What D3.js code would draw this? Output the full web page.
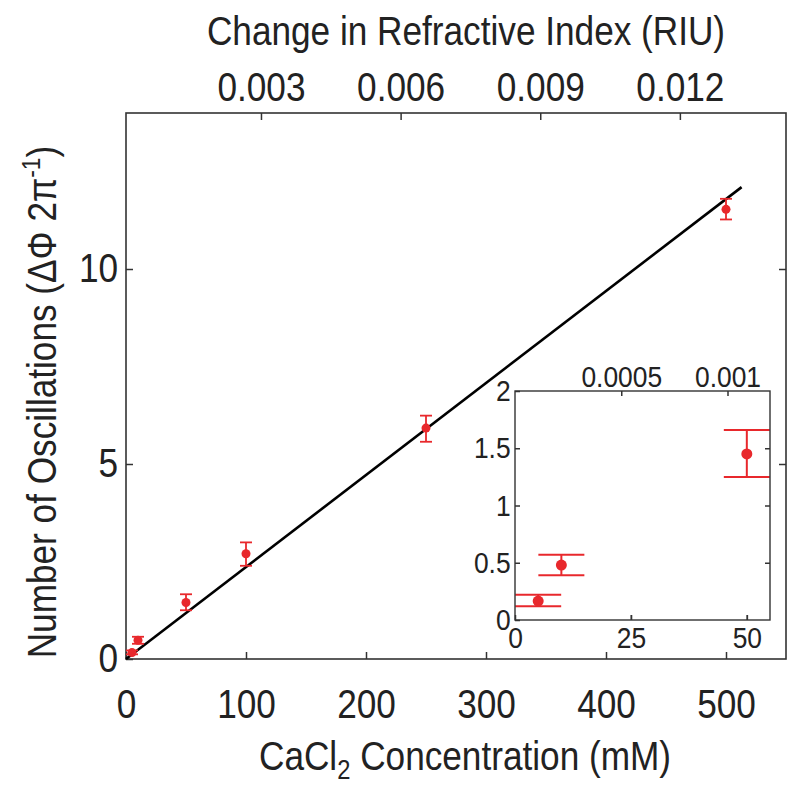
<!DOCTYPE html>
<html><head><meta charset="utf-8">
<script src="https://cdn.jsdelivr.net/npm/d3@7"></script>
<style>body{margin:0;background:#fff}svg{display:block}</style>
</head><body>
<svg id="c" width="800" height="786"></svg>
<script>
// ---- data ----
const conc = [5, 10, 50, 100, 250, 500];
const osc = [0.165, 0.48, 1.45, 2.70, 5.92, 11.53];
const errLow = [0.12, 0.39, 1.25, 2.39, 5.57, 11.27];
const errHigh = [0.22, 0.57, 1.66, 2.99, 6.24, 11.80];
const fitConc = [0, 513];
const fitOsc = [0, 12.1];
const xTicks = [0, 100, 200, 300, 400, 500];
const yTicks = [0, 5, 10];
const riuTicks = [0.003, 0.006, 0.009, 0.012];
const riuLabels = ["0.003", "0.006", "0.009", "0.012"];
const insetConc = [5, 10, 50];
const insetXTicks = [0, 25, 50];
const insetYTicks = [0, 0.5, 1, 1.5, 2];
const insetYLabels = ["0", "0.5", "1", "1.5", "2"];
const insetRiuTicks = [0.0005, 0.001];
const insetRiuLabels = ["0.0005", "0.001"];

const FONT = "'Liberation Sans',Arial,Helvetica,sans-serif";
const SX = 0.88; // horizontal condensation of the glyphs
const RED = "#e8282c";
const AX = "#333";

const svg = d3.select("#c");

// ---- main scales ----
const M = {l: 126, r: 786, t: 113, b: 659};
const x = d3.scaleLinear().domain([0, 550]).range([M.l, M.r]);
const y = d3.scaleLinear().domain([0, 14]).range([M.b, M.t]);
const riu = d3.scaleLinear().domain([0.0001, 0.01428]).range([M.l, M.r]);

function styleAxis(g, fs) {
  g.select(".domain").remove();
  g.selectAll(".tick line").attr("stroke", AX).attr("stroke-width", 1.5);
  g.selectAll(".tick text").attr("fill", "#222").style("font-family", FONT).style("font-size", fs + "px")
    .attr("transform", `scale(${SX},1)`);
}

// bottom
svg.append("g").attr("transform", `translate(0,${M.b})`)
  .call(d3.axisBottom(x).tickValues(xTicks).tickFormat(d3.format("d")).tickSize(-7).tickPadding(31))
  .call(g => styleAxis(g, 40));
// left
svg.append("g").attr("transform", `translate(${M.l},0)`)
  .call(d3.axisLeft(y).tickValues(yTicks).tickFormat(d3.format("d")).tickSize(-7).tickPadding(9))
  .call(g => styleAxis(g, 40));
// right ticks
svg.append("g").attr("transform", `translate(${M.r},0)`)
  .call(d3.axisRight(y).tickValues(yTicks.slice(1)).tickFormat("").tickSize(-7))
  .call(g => styleAxis(g, 40));
// top RIU
svg.append("g").attr("transform", `translate(0,${M.t})`)
  .call(d3.axisTop(riu).tickValues(riuTicks).tickFormat((d, i) => riuLabels[i]).tickSize(-7).tickPadding(12))
  .call(g => styleAxis(g, 40));

// box
svg.append("rect").attr("x", M.l).attr("y", M.t).attr("width", M.r - M.l).attr("height", M.b - M.t)
  .attr("fill", "none").attr("stroke", AX).attr("stroke-width", 1.6);

// fit line
svg.append("path")
  .datum(fitConc.map((c, i) => [c, fitOsc[i]]))
  .attr("d", d3.line().x(d => x(d[0])).y(d => y(d[1])))
  .attr("stroke", "#000").attr("stroke-width", 2.6).attr("fill", "none");

// main error bars + points
const mainPts = conc.map((c, i) => ({c, v: osc[i], lo: errLow[i], hi: errHigh[i]}));
const eb = svg.append("g").attr("stroke", RED).attr("stroke-width", 1.8);
mainPts.forEach(p => {
  const cx = x(p.c);
  eb.append("line").attr("x1", cx).attr("x2", cx).attr("y1", y(p.lo)).attr("y2", y(p.hi));
  eb.append("line").attr("x1", cx - 6).attr("x2", cx + 6).attr("y1", y(p.lo)).attr("y2", y(p.lo));
  eb.append("line").attr("x1", cx - 6).attr("x2", cx + 6).attr("y1", y(p.hi)).attr("y2", y(p.hi));
});
svg.append("g").selectAll("circle").data(mainPts).join("circle")
  .attr("cx", d => x(d.c)).attr("cy", d => y(d.v)).attr("r", 4.5).attr("fill", RED);

// axis titles
svg.append("text").attr("transform", `translate(466,45) scale(${SX},1)`).attr("text-anchor", "middle")
  .style("font-family", FONT).style("font-size", "40px").attr("fill", "#222")
  .text("Change in Refractive Index (RIU)");

const xl = svg.append("text").attr("transform", `translate(465,770) scale(${SX},1)`).attr("text-anchor", "middle")
  .style("font-family", FONT).style("font-size", "40px").attr("fill", "#222");
xl.append("tspan").text("CaCl");
xl.append("tspan").attr("dy", 9).style("font-size", "27px").text("2");
xl.append("tspan").attr("dy", -9).text(" Concentration (mM)");

const yl = svg.append("text").attr("transform", `translate(56,402) rotate(-90) scale(${SX},1)`).attr("text-anchor", "middle")
  .style("font-family", FONT).style("font-size", "40px").attr("fill", "#222");
yl.append("tspan").text("Number of Oscillations (\u0394\u03A6 2\u03C0");
yl.append("tspan").attr("dy", -16).style("font-size", "26px").text("-1");
yl.append("tspan").attr("dy", 16).text(")");

// ---- inset ----
const I = {l: 515, r: 770, t: 391, b: 620};
const ix = d3.scaleLinear().domain([0, 55]).range([I.l, I.r]);
const iy = d3.scaleLinear().domain([0, 2]).range([I.b, I.t]);
const iriu = d3.scaleLinear().domain([0, 0.0012]).range([I.l, I.r]);

svg.append("rect").attr("x", I.l).attr("y", I.t).attr("width", I.r - I.l).attr("height", I.b - I.t).attr("fill", "#fff");

svg.append("g").attr("transform", `translate(0,${I.b})`)
  .call(d3.axisBottom(ix).tickValues(insetXTicks).tickFormat(d3.format("d")).tickSize(-5).tickPadding(7))
  .call(g => styleAxis(g, 30));
svg.append("g").attr("transform", `translate(${I.l},0)`)
  .call(d3.axisLeft(iy).tickValues(insetYTicks).tickFormat((d, i) => insetYLabels[i]).tickSize(-5).tickPadding(5))
  .call(g => styleAxis(g, 30));
svg.append("g").attr("transform", `translate(${I.r},0)`)
  .call(d3.axisRight(iy).tickValues(insetYTicks.slice(1, 4)).tickFormat("").tickSize(-5))
  .call(g => styleAxis(g, 30));
svg.append("g").attr("transform", `translate(0,${I.t})`)
  .call(d3.axisTop(iriu).tickValues(insetRiuTicks).tickFormat((d, i) => insetRiuLabels[i]).tickSize(-5).tickPadding(4))
  .call(g => styleAxis(g, 30));
svg.append("g").attr("transform", `translate(0,${I.b})`)
  .call(d3.axisTop(ix).tickValues(insetXTicks.slice(1)).tickFormat("").tickSize(5))
  .call(g => styleAxis(g, 30));

svg.append("defs").append("clipPath").attr("id", "ic").append("rect")
  .attr("x", I.l).attr("y", I.t).attr("width", I.r - I.l).attr("height", I.b - I.t);

const insetPts = mainPts.filter(p => insetConc.includes(p.c));
const ieb = svg.append("g").attr("clip-path", "url(#ic)").attr("stroke", RED).attr("stroke-width", 2);
insetPts.forEach(p => {
  const cx = ix(p.c);
  ieb.append("line").attr("x1", cx).attr("x2", cx).attr("y1", iy(p.lo)).attr("y2", iy(p.hi));
  ieb.append("line").attr("x1", cx - 23).attr("x2", cx + 23).attr("y1", iy(p.lo)).attr("y2", iy(p.lo));
  ieb.append("line").attr("x1", cx - 23).attr("x2", cx + 23).attr("y1", iy(p.hi)).attr("y2", iy(p.hi));
});
svg.append("g").selectAll("circle").data(insetPts).join("circle")
  .attr("cx", d => ix(d.c)).attr("cy", d => iy(d.v)).attr("r", 5.5).attr("fill", RED);

svg.append("rect").attr("x", I.l).attr("y", I.t).attr("width", I.r - I.l).attr("height", I.b - I.t)
  .attr("fill", "none").attr("stroke", AX).attr("stroke-width", 1.4);
</script>
</body></html>
